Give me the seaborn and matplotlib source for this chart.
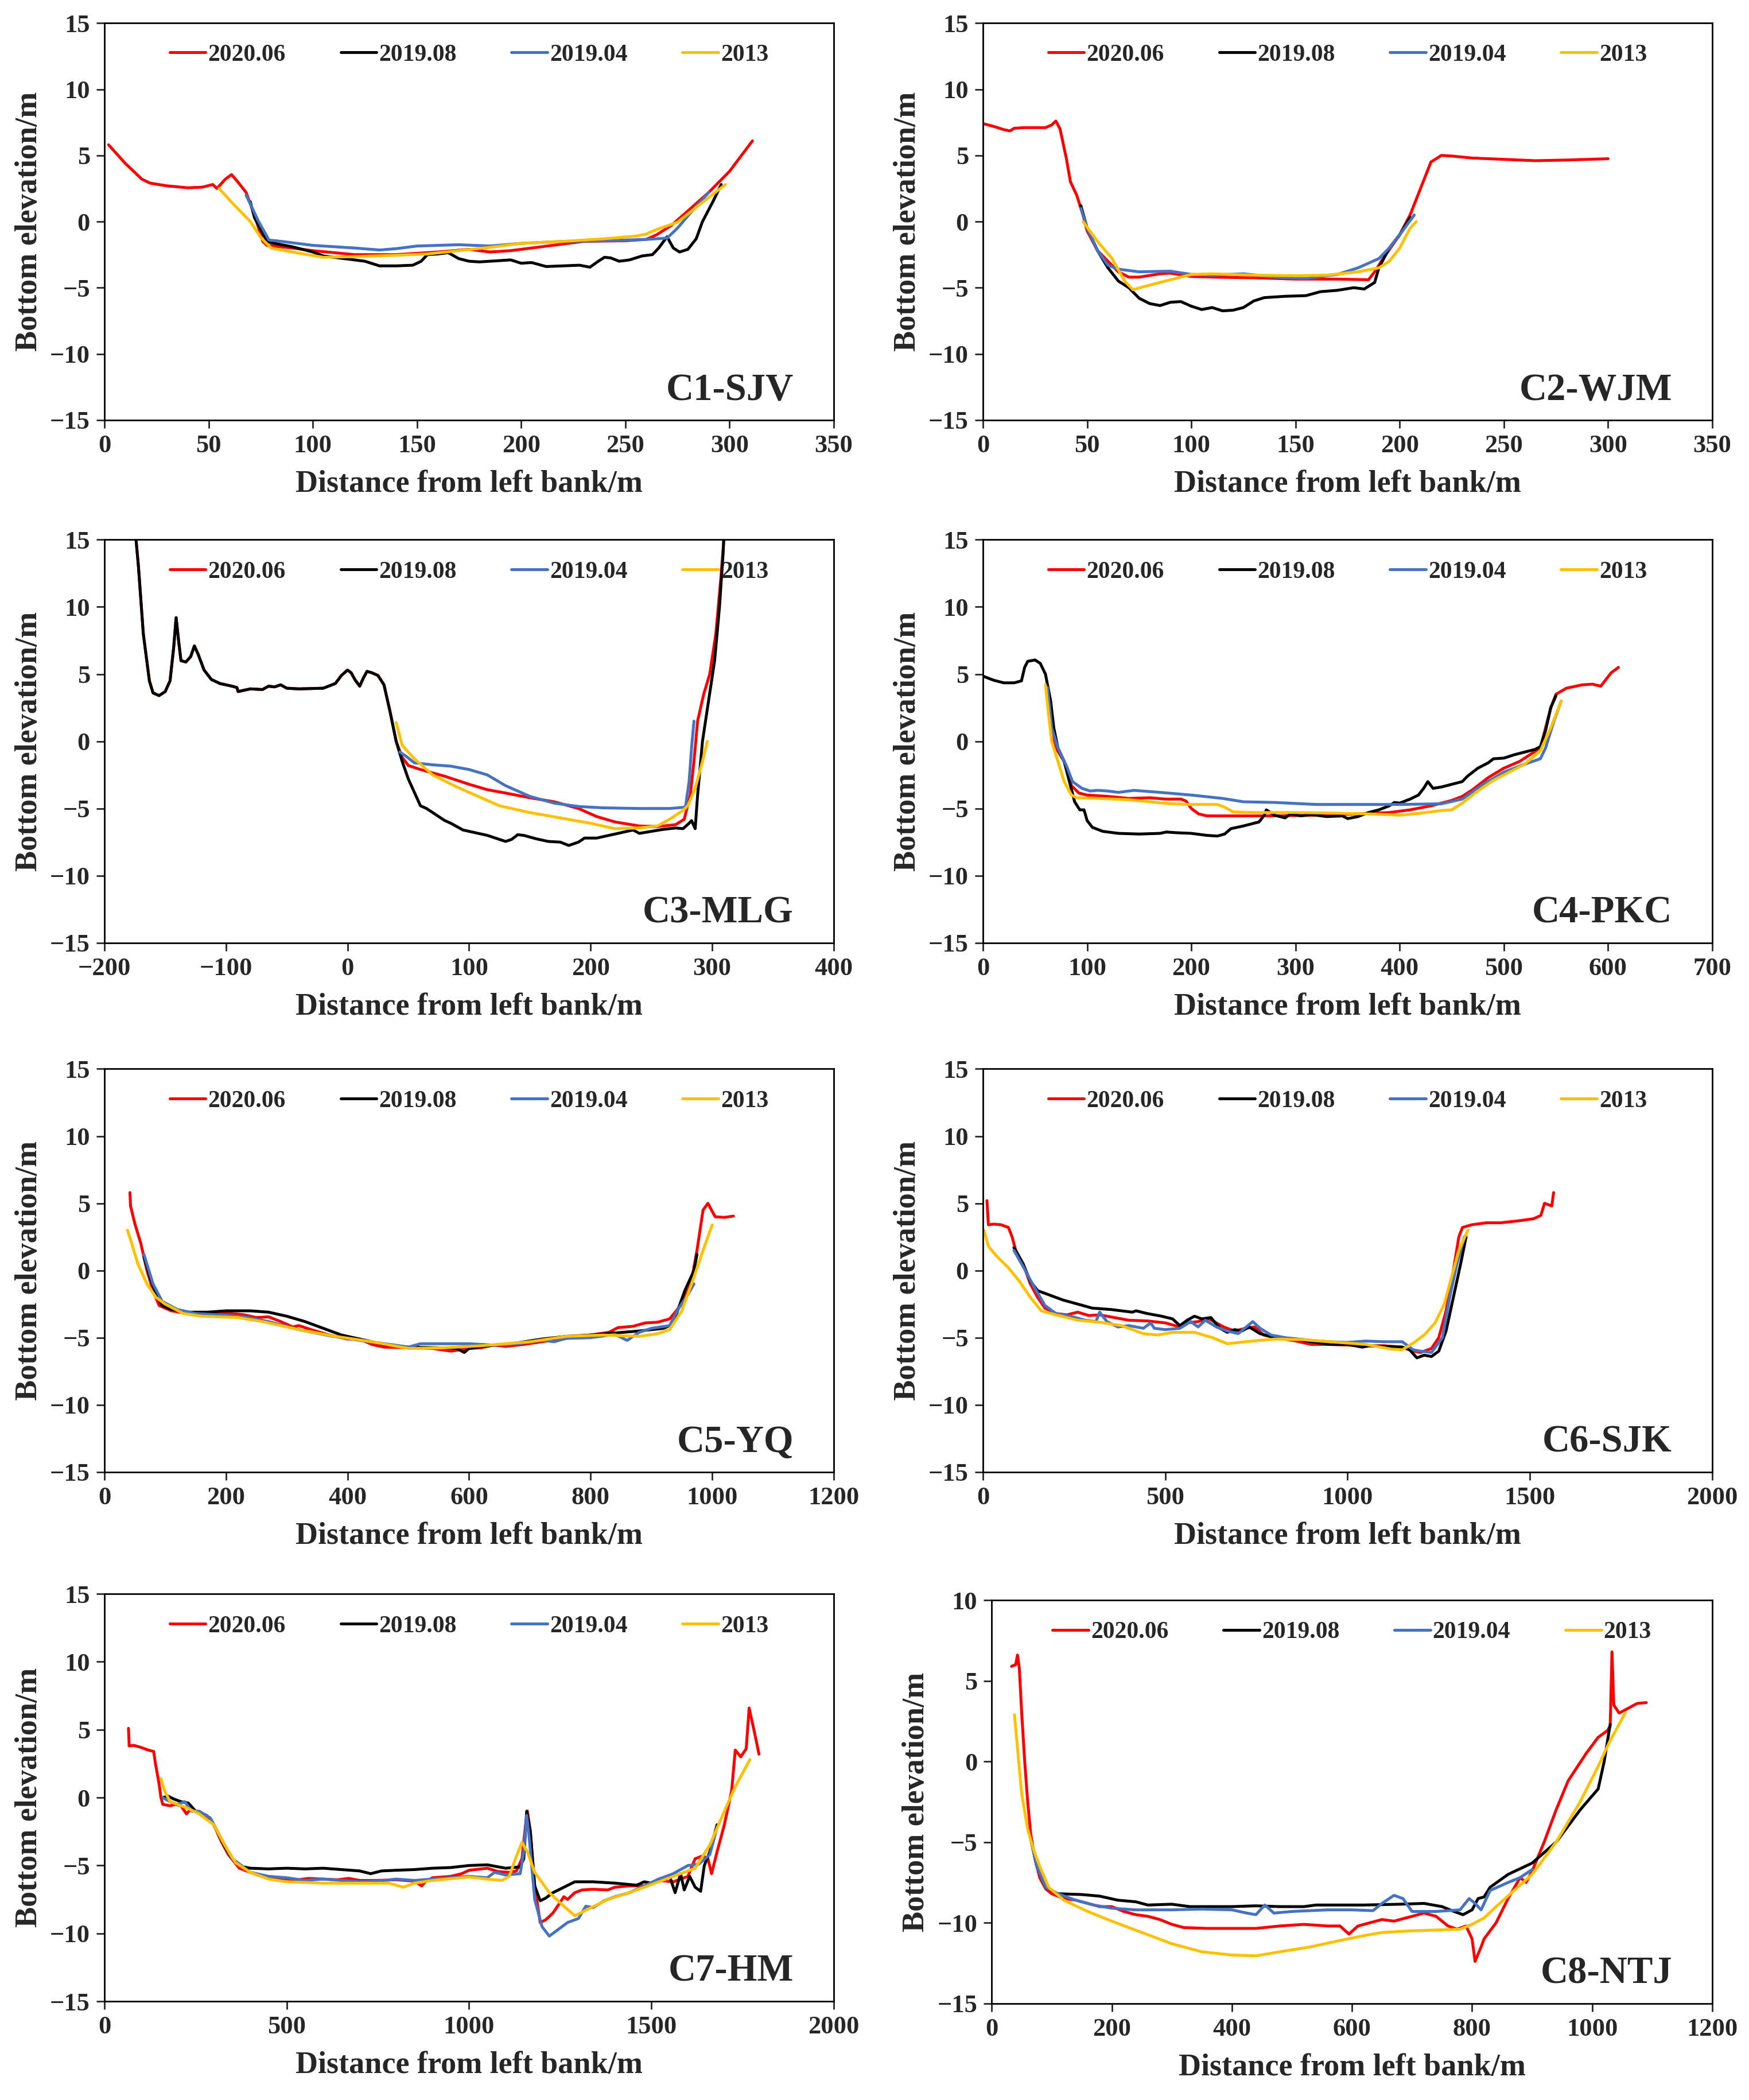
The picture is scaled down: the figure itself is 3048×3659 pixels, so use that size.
import pandas as pd
import matplotlib.pyplot as plt
import seaborn as sns

# Cross-section bottom profiles, 8 sections x 4 surveys
# =====================================================
surveys = ["2020.06", "2019.08", "2019.04", "2013"]
colors = ["#FF0000", "#000000", "#4472C4", "#FFC000"]
names = ["C1-SJV", "C2-WJM", "C3-MLG", "C4-PKC", "C5-YQ", "C6-SJK", "C7-HM", "C8-NTJ"]

# C1-SJV
c1_2020_x = [2, 6, 10, 14, 18, 22, 30, 40, 47, 52, 54, 58, 61, 64, 68, 72, 76, 78, 90, 100, 120, 140, 160, 175, 185, 195, 210, 230, 250, 260, 265, 272, 280, 290, 300, 311]
c1_2020_y = [5.8, 5.1, 4.4, 3.8, 3.2, 2.9, 2.7, 2.55, 2.6, 2.8, 2.5, 3.2, 3.55, 3.0, 2.2, 0.5, -1.5, -1.8, -2.0, -2.2, -2.5, -2.5, -2.3, -2.1, -2.3, -2.2, -1.9, -1.5, -1.45, -1.35, -1.0, -0.3, 0.8, 2.2, 3.8, 6.1]
c1_2019a_x = [70, 72, 78, 80, 90, 100, 105, 115, 125, 132, 140, 148, 152, 155, 160, 165, 170, 175, 180, 190, 195, 200, 205, 212, 220, 228, 233, 237, 240, 243, 247, 252, 258, 263, 266, 270, 273, 276, 280, 284, 287, 292, 296]
c1_2019a_y = [1.5, 0.3, -1.5, -1.6, -1.9, -2.3, -2.6, -2.8, -3.0, -3.35, -3.35, -3.3, -3.0, -2.5, -2.45, -2.35, -2.8, -3.0, -3.05, -2.95, -2.9, -3.15, -3.1, -3.4, -3.35, -3.3, -3.45, -3.0, -2.7, -2.75, -3.0, -2.9, -2.6, -2.5, -2.0, -1.15, -2.0, -2.3, -2.1, -1.3, 0.0, 1.5, 2.8]
c1_2019b_x = [68, 74, 79, 85, 100, 120, 132, 140, 150, 170, 185, 200, 220, 240, 260, 270, 275, 282, 290]
c1_2019b_y = [2.0, 0.0, -1.4, -1.5, -1.8, -2.0, -2.15, -2.05, -1.85, -1.75, -1.85, -1.65, -1.5, -1.45, -1.35, -1.25, -0.5, 0.8, 2.2]
c1_2013_x = [55, 62, 70, 75, 80, 90, 105, 120, 140, 155, 170, 185, 200, 220, 240, 255, 260, 265, 275, 285, 298]
c1_2013_y = [2.5, 1.3, 0.0, -1.2, -2.0, -2.3, -2.7, -2.65, -2.55, -2.45, -2.2, -1.95, -1.65, -1.5, -1.3, -1.1, -0.95, -0.6, -0.05, 1.2, 2.8]

# C2-WJM
c2_2020_x = [0, 5, 10, 13, 15, 20, 30, 33, 35, 37, 40, 42, 45, 48, 50, 55, 60, 65, 70, 75, 85, 90, 100, 110, 130, 150, 170, 185, 188, 192, 200, 205, 210, 215, 220, 225, 235, 250, 265, 280, 300]
c2_2020_y = [7.4, 7.2, 6.95, 6.85, 7.05, 7.1, 7.1, 7.3, 7.6, 7.0, 4.8, 3.0, 2.0, 0.5, -0.7, -2.2, -3.0, -3.8, -4.2, -4.2, -3.95, -3.9, -4.15, -4.2, -4.25, -4.35, -4.35, -4.4, -3.8, -2.8, -1.0, 0.5, 2.5, 4.5, 5.0, 4.95, 4.8, 4.7, 4.6, 4.65, 4.75]
c2_2019a_x = [47, 50, 55, 60, 65, 70, 75, 80, 85, 90, 95, 100, 105, 110, 115, 120, 125, 130, 135, 145, 155, 162, 170, 178, 183, 188, 190, 195, 200, 205]
c2_2019a_y = [1.2, -0.5, -2.2, -3.5, -4.5, -5.0, -5.8, -6.2, -6.35, -6.1, -6.05, -6.4, -6.65, -6.5, -6.75, -6.7, -6.5, -6.0, -5.75, -5.65, -5.6, -5.3, -5.2, -5.0, -5.1, -4.6, -3.5, -2.0, -1.0, 0.3]
c2_2019b_x = [47, 50, 55, 60, 65, 75, 90, 100, 110, 125, 140, 155, 170, 180, 190, 195, 200, 207]
c2_2019b_y = [1.0, -0.5, -2.2, -3.3, -3.6, -3.8, -3.75, -4.0, -4.05, -3.95, -4.2, -4.3, -4.0, -3.5, -2.8, -2.0, -1.0, 0.5]
c2_2013_x = [48, 55, 62, 68, 72, 80, 90, 100, 110, 130, 150, 165, 180, 190, 195, 200, 205, 208]
c2_2013_y = [0.0, -1.5, -2.8, -4.5, -5.15, -4.8, -4.4, -4.0, -3.95, -4.05, -4.1, -4.05, -3.8, -3.5, -3.0, -2.0, -0.5, 0.0]

# C3-MLG
c3_bank_x = [-177, -172, -168, -163, -160, -155, -150, -146, -143, -141, -139, -137, -133, -129, -126, -123, -118, -112, -105, -95, -91, -90, -85, -80, -70, -65, -60, -55, -50, -40, -20, -10, -5, 0, 3, 6, 10, 13, 16, 20, 25, 30, 35, 40]
c3_bank_y = [18, 13, 8, 4.5, 3.6, 3.4, 3.7, 4.5, 7.0, 9.2, 7.5, 6.0, 5.9, 6.3, 7.1, 6.5, 5.3, 4.6, 4.3, 4.1, 4.0, 3.7, 3.8, 3.9, 3.85, 4.1, 4.05, 4.2, 3.95, 3.9, 3.95, 4.3, 4.9, 5.3, 5.1, 4.6, 4.1, 4.7, 5.2, 5.1, 4.9, 4.2, 2.2, 0.0]
c3_2020_x = c3_bank_x + [45, 50, 60, 80, 100, 115, 130, 150, 170, 190, 205, 220, 240, 255, 270, 277, 282, 285, 288, 293, 298, 303, 307, 310, 312]
c3_2020_y = c3_bank_y + [-1.2, -1.8, -2.1, -2.6, -3.2, -3.6, -3.85, -4.2, -4.5, -5.0, -5.6, -6.0, -6.3, -6.35, -6.2, -5.8, -4.0, -1.5, 1.5, 3.5, 5.0, 8.0, 12.0, 15.5, 18]
c3_2019a_x = c3_bank_x + [45, 50, 60, 65, 70, 80, 85, 95, 105, 115, 125, 130, 135, 140, 145, 155, 165, 175, 182, 190, 195, 205, 215, 225, 235, 240, 250, 260, 270, 276, 281, 283, 286, 288, 292, 297, 302, 306, 309, 311]
c3_2019a_y = c3_bank_y + [-1.5, -2.8, -4.8, -5.0, -5.3, -5.9, -6.1, -6.6, -6.8, -7.0, -7.3, -7.45, -7.3, -6.95, -7.0, -7.25, -7.45, -7.5, -7.75, -7.5, -7.2, -7.2, -7.0, -6.8, -6.6, -6.85, -6.7, -6.55, -6.45, -6.5, -6.1, -5.9, -6.5, -4.0, 0.0, 3.0, 6.0, 10.0, 14.0, 18]
c3_2019b_x = [43, 48, 55, 70, 85, 100, 115, 130, 150, 170, 190, 210, 240, 265, 278, 281, 283, 285]
c3_2019b_y = [-0.8, -1.1, -1.6, -1.75, -1.85, -2.1, -2.5, -3.3, -4.1, -4.6, -4.85, -4.95, -5.0, -5.0, -4.9, -3.0, -0.5, 1.5]
c3_2013_x = [40, 45, 55, 70, 90, 110, 125, 150, 175, 200, 220, 240, 255, 265, 275, 280, 286, 292, 296]
c3_2013_y = [1.4, -0.3, -1.3, -2.5, -3.4, -4.2, -4.8, -5.3, -5.7, -6.1, -6.5, -6.45, -6.3, -5.8, -5.2, -4.8, -3.5, -1.5, 0.0]

# C4-PKC
c4_2020_x = [62, 66, 70, 78, 85, 92, 100, 120, 140, 160, 175, 190, 195, 200, 207, 215, 240, 280, 320, 360, 390, 410, 430, 450, 460, 470, 485, 500, 515, 525, 535, 540, 545, 550, 560, 575, 585, 593, 598, 603, 610]
c4_2020_y = [4.0, 1.0, -0.5, -1.5, -3.3, -3.85, -4.0, -4.1, -4.25, -4.2, -4.3, -4.3, -4.45, -5.0, -5.4, -5.55, -5.55, -5.55, -5.5, -5.4, -5.3, -5.1, -4.8, -4.4, -4.1, -3.6, -2.7, -2.0, -1.5, -1.0, -0.5, 1.0, 2.5, 3.5, 3.95, 4.2, 4.25, 4.1, 4.6, 5.1, 5.5]
c4_2019a_x = [0, 10, 20, 30, 37, 40, 43, 50, 55, 60, 65, 68, 72, 78, 83, 88, 93, 97, 100, 105, 115, 130, 150, 170, 176, 185, 200, 215, 225, 232, 238, 250, 260, 265, 270, 272, 280, 290, 295, 305, 315, 330, 345, 350, 360, 370, 380, 390, 395, 400, 410, 418, 423, 427, 432, 440, 450, 460, 465, 475, 485, 490, 500, 510, 520, 530, 535, 540, 545, 550]
c4_2019a_y = [4.85, 4.55, 4.35, 4.35, 4.5, 5.5, 5.95, 6.05, 5.8, 5.0, 3.0, 1.0, -0.5, -1.5, -3.0, -4.5, -5.1, -5.1, -5.9, -6.4, -6.7, -6.85, -6.9, -6.85, -6.75, -6.8, -6.85, -7.0, -7.05, -6.9, -6.5, -6.3, -6.1, -6.0, -5.5, -5.1, -5.5, -5.7, -5.4, -5.55, -5.45, -5.6, -5.55, -5.75, -5.6, -5.3, -5.1, -4.8, -4.55, -4.6, -4.3, -4.0, -3.5, -3.0, -3.5, -3.4, -3.2, -3.0, -2.6, -2.0, -1.6, -1.3, -1.25, -1.0, -0.8, -0.6, -0.4, 0.8, 2.5, 3.4]
c4_2019b_x = [62, 66, 72, 80, 86, 95, 103, 110, 120, 130, 145, 170, 200, 230, 250, 280, 320, 360, 400, 440, 460, 480, 500, 520, 535, 540, 548, 555]
c4_2019b_y = [4.0, 1.0, -0.5, -1.8, -3.0, -3.5, -3.7, -3.65, -3.7, -3.8, -3.65, -3.8, -4.0, -4.25, -4.5, -4.55, -4.7, -4.7, -4.7, -4.65, -4.3, -3.2, -2.3, -1.7, -1.3, -0.5, 1.5, 3.0]
c4_2013_x = [60, 63, 66, 72, 78, 85, 90, 110, 140, 160, 180, 200, 225, 232, 240, 260, 300, 340, 370, 400, 420, 440, 450, 460, 475, 490, 505, 520, 535, 545, 555]
c4_2013_y = [4.2, 2.0, 0.0, -1.5, -3.0, -4.0, -4.2, -4.25, -4.35, -4.5, -4.65, -4.7, -4.7, -4.9, -5.25, -5.3, -5.3, -5.35, -5.4, -5.5, -5.35, -5.15, -5.1, -4.6, -3.7, -2.9, -2.3, -1.7, -0.7, 1.0, 3.0]

# C5-YQ
c5_2020_x = [42, 43, 50, 60, 70, 80, 90, 110, 130, 160, 200, 230, 250, 270, 290, 310, 320, 340, 370, 400, 420, 440, 460, 500, 540, 570, 600, 620, 640, 660, 690, 720, 760, 800, 830, 845, 870, 890, 910, 930, 950, 965, 975, 985, 993, 1000, 1005, 1020, 1035]
c5_2020_y = [5.8, 4.8, 3.5, 2.0, 0.0, -1.5, -2.6, -3.0, -3.15, -3.2, -3.15, -3.3, -3.5, -3.45, -3.8, -4.2, -4.1, -4.4, -4.8, -5.1, -5.1, -5.5, -5.7, -5.75, -5.8, -6.0, -5.8, -5.75, -5.55, -5.65, -5.5, -5.3, -5.05, -4.8, -4.6, -4.25, -4.15, -3.9, -3.85, -3.6, -2.5, -1.0, 1.5, 4.5, 5.0, 4.4, 4.0, 3.95, 4.05]
c5_2019a_x = [65, 75, 85, 95, 110, 140, 170, 200, 240, 270, 300, 330, 360, 390, 420, 460, 500, 550, 580, 592, 600, 630, 670, 720, 760, 800, 840, 880, 920, 935, 955, 970, 975]
c5_2019a_y = [1.0, -0.5, -1.8, -2.6, -2.9, -3.1, -3.1, -3.0, -3.0, -3.1, -3.4, -3.8, -4.3, -4.8, -5.1, -5.5, -5.7, -5.75, -5.8, -6.1, -5.8, -5.6, -5.45, -5.1, -4.9, -4.8, -4.65, -4.5, -4.3, -4.0, -1.5, 0.0, 1.2]
c5_2019b_x = [65, 80, 95, 120, 150, 190, 230, 270, 320, 370, 420, 470, 500, 520, 560, 600, 640, 680, 720, 740, 760, 800, 840, 860, 880, 900, 930, 945, 960, 970]
c5_2019b_y = [1.2, -1.0, -2.3, -2.9, -3.2, -3.3, -3.45, -3.8, -4.4, -4.85, -5.2, -5.5, -5.7, -5.45, -5.45, -5.45, -5.55, -5.45, -5.2, -5.3, -5.05, -5.0, -4.75, -5.2, -4.6, -4.3, -4.1, -2.8, -1.8, -1.0]
c5_2013_x = [38, 45, 55, 70, 85, 100, 130, 160, 220, 260, 320, 380, 440, 500, 560, 620, 700, 760, 820, 880, 910, 930, 950, 970, 985, 1000]
c5_2013_y = [3.0, 2.0, 0.5, -1.0, -2.0, -2.5, -3.2, -3.4, -3.5, -3.8, -4.4, -4.9, -5.3, -5.8, -5.75, -5.6, -5.3, -4.9, -4.8, -4.9, -4.7, -4.4, -3.0, -0.5, 1.5, 3.4]

# C6-SJK
c6_2020_x = [11, 15, 30, 50, 70, 80, 90, 110, 130, 150, 170, 200, 230, 260, 290, 320, 360, 400, 450, 500, 540, 560, 590, 620, 660, 690, 720, 745, 770, 800, 850, 900, 950, 1000, 1050, 1100, 1150, 1180, 1200, 1230, 1250, 1270, 1290, 1305, 1315, 1340, 1380, 1420, 1470, 1510, 1530, 1540, 1550, 1560, 1565]
c6_2020_y = [5.2, 3.4, 3.45, 3.4, 3.2, 2.5, 1.5, 0.5, -1.0, -2.0, -2.8, -3.2, -3.3, -3.1, -3.35, -3.3, -3.5, -3.7, -3.75, -3.9, -4.2, -3.9, -3.8, -3.6, -4.2, -4.5, -4.3, -4.2, -4.8, -5.0, -5.2, -5.5, -5.5, -5.55, -5.6, -5.6, -5.7, -6.0, -6.1, -5.8, -5.0, -3.0, 0.0, 2.5, 3.2, 3.4, 3.55, 3.55, 3.7, 3.85, 4.1, 5.0, 4.9, 4.8, 5.8]
c6_2019a_x = [85, 110, 130, 150, 180, 220, 260, 300, 350, 380, 410, 420, 450, 490, 520, 540, 560, 580, 600, 625, 650, 670, 690, 710, 730, 760, 800, 850, 900, 950, 1000, 1040, 1060, 1100, 1150, 1170, 1190, 1210, 1230, 1250, 1270, 1290, 1310, 1325]
c6_2019a_y = [1.7, 0.5, -0.8, -1.5, -1.8, -2.2, -2.5, -2.8, -2.9, -3.0, -3.1, -3.0, -3.2, -3.4, -3.6, -4.1, -3.7, -3.4, -3.6, -3.5, -4.3, -4.6, -4.4, -4.5, -4.2, -4.7, -5.0, -5.1, -5.3, -5.5, -5.5, -5.7, -5.6, -5.65, -5.7, -5.9, -6.5, -6.3, -6.4, -6.0, -4.5, -2.0, 0.5, 2.5]
c6_2019b_x = [85, 110, 140, 170, 200, 240, 280, 310, 320, 340, 370, 400, 440, 460, 470, 500, 540, 570, 590, 610, 640, 670, 700, 740, 760, 790, 830, 900, 950, 1000, 1050, 1100, 1150, 1180, 1200, 1230, 1260, 1280, 1300, 1320]
c6_2019b_y = [1.5, 0.3, -1.2, -2.6, -3.2, -3.4, -3.7, -3.8, -3.1, -3.8, -4.2, -4.1, -4.3, -3.9, -4.3, -4.4, -4.3, -3.8, -4.2, -3.7, -4.2, -4.5, -4.7, -3.8, -4.3, -4.8, -5.0, -5.2, -5.3, -5.35, -5.25, -5.3, -5.3, -5.9, -6.0, -6.1, -5.0, -2.0, 0.5, 2.5]
c6_2013_x = [3, 15, 40, 70, 100, 130, 160, 200, 260, 320, 380, 440, 480, 520, 580, 630, 670, 720, 800, 880, 950, 1050, 1120, 1150, 1180, 1210, 1240, 1265, 1285, 1305, 1330]
c6_2013_y = [3.0, 1.8, 1.0, 0.2, -0.8, -2.0, -3.0, -3.3, -3.7, -3.85, -4.1, -4.7, -4.8, -4.6, -4.6, -5.0, -5.45, -5.3, -5.1, -5.15, -5.3, -5.5, -5.85, -5.9, -5.4, -4.8, -3.9, -2.5, -0.5, 1.5, 3.0]

# C7-HM
c7_2020_x = [66, 68, 80, 100, 120, 135, 140, 150, 155, 160, 180, 195, 210, 220, 225, 235, 260, 280, 300, 320, 340, 370, 420, 460, 500, 530, 560, 600, 640, 670, 700, 750, 800, 850, 870, 880, 900, 950, 980, 1000, 1050, 1080, 1110, 1130, 1145, 1155, 1160, 1168, 1180, 1195, 1210, 1230, 1260, 1270, 1290, 1310, 1340, 1380, 1400, 1440, 1480, 1520, 1560, 1580, 1600, 1620, 1640, 1655, 1665, 1680, 1700, 1720, 1730, 1745, 1760, 1768, 1785, 1795]
c7_2020_y = [5.1, 3.8, 3.85, 3.7, 3.5, 3.4, 2.5, 1.0, 0.0, -0.5, -0.6, -0.5, -0.6, -1.0, -1.2, -0.9, -1.1, -1.3, -2.0, -3.2, -4.2, -5.2, -5.7, -5.9, -6.0, -6.05, -5.95, -6.0, -6.05, -5.95, -6.1, -6.1, -6.05, -6.15, -6.5, -6.2, -5.9, -5.8, -5.6, -5.35, -5.2, -5.45, -5.5, -5.4, -4.5, -2.0, -1.0, -2.5, -6.5, -9.2, -9.0, -8.5, -7.3, -7.5, -7.0, -6.8, -6.75, -6.8, -6.6, -6.5, -6.5, -6.1, -6.2, -6.0, -5.8, -4.5, -4.3, -4.5, -5.6, -4.0, -2.0, 0.5, 3.5, 3.0, 3.6, 6.6, 4.5, 3.2]
c7_2019a_x = [160, 175, 190, 210, 230, 250, 270, 290, 310, 330, 350, 380, 400, 450, 500, 550, 600, 650, 700, 730, 760, 800, 850, 900, 950, 1000, 1050, 1100, 1140, 1150, 1158, 1168, 1180, 1195, 1210, 1230, 1260, 1290, 1340, 1400, 1460, 1480, 1500, 1530, 1550, 1565, 1580, 1590, 1605, 1620, 1635, 1645, 1660, 1680]
c7_2019a_y = [0.0, 0.1, -0.1, -0.3, -0.4, -1.0, -1.2, -1.5, -2.5, -3.6, -4.5, -5.1, -5.2, -5.25, -5.2, -5.25, -5.2, -5.3, -5.4, -5.6, -5.4, -5.35, -5.3, -5.2, -5.15, -5.0, -4.95, -5.2, -5.1, -4.5, -1.0, -2.5, -6.5, -7.6, -7.4, -7.0, -6.6, -6.2, -6.2, -6.3, -6.45, -6.2, -6.3, -6.0, -5.8, -7.0, -5.6, -6.8, -5.8, -6.6, -6.9, -5.0, -4.0, -2.0]
c7_2019b_x = [160, 180, 200, 220, 240, 260, 290, 320, 350, 400, 450, 500, 550, 600, 650, 700, 750, 800, 850, 900, 950, 1000, 1050, 1070, 1100, 1140, 1150, 1158, 1165, 1180, 1200, 1220, 1240, 1270, 1300, 1320, 1340, 1370, 1400, 1440, 1480, 1520, 1560, 1600, 1630, 1660, 1680]
c7_2019b_y = [0.0, -0.3, -0.5, -0.3, -1.0, -1.0, -1.5, -3.0, -4.5, -5.5, -5.8, -5.9, -6.1, -6.0, -6.1, -6.2, -6.15, -6.0, -6.1, -6.0, -5.9, -5.8, -5.9, -5.5, -5.7, -5.6, -4.0, -1.3, -3.0, -7.5, -9.5, -10.2, -9.8, -9.2, -8.9, -8.0, -8.1, -7.6, -7.3, -7.0, -6.5, -6.0, -5.6, -5.0, -4.9, -4.2, -2.2]
c7_2013_x = [155, 165, 180, 200, 230, 260, 300, 330, 360, 400, 450, 500, 600, 700, 780, 820, 850, 900, 1000, 1050, 1090, 1110, 1130, 1145, 1160, 1180, 1220, 1260, 1290, 1320, 1380, 1440, 1500, 1560, 1620, 1660, 1700, 1730, 1770]
c7_2013_y = [1.4, 0.5, -0.3, -0.5, -0.8, -1.2, -2.0, -3.5, -4.8, -5.5, -6.0, -6.2, -6.3, -6.3, -6.3, -6.6, -6.3, -6.1, -5.85, -6.0, -6.1, -5.8, -4.3, -3.3, -4.0, -5.5, -7.0, -8.0, -8.7, -8.3, -7.5, -7.0, -6.4, -5.8, -5.2, -3.5, -1.0, 0.8, 2.8]

# C8-NTJ
c8_2020_x = [33, 40, 43, 46, 50, 55, 60, 65, 72, 80, 90, 100, 120, 140, 160, 180, 200, 220, 240, 260, 280, 300, 320, 360, 400, 440, 480, 520, 560, 580, 595, 610, 630, 650, 670, 690, 720, 740, 760, 775, 790, 800, 805, 815, 820, 840, 860, 880, 890, 900, 920, 940, 960, 990, 1010, 1025, 1030, 1033, 1036, 1045, 1060, 1075, 1090]
c8_2020_y = [5.9, 6.0, 6.6, 5.8, 3.0, 0.0, -2.5, -4.5, -6.0, -7.2, -7.9, -8.2, -8.5, -8.6, -8.8, -9.0, -9.0, -9.3, -9.5, -9.6, -9.8, -10.1, -10.3, -10.35, -10.35, -10.35, -10.2, -10.1, -10.2, -10.2, -10.7, -10.2, -10.0, -9.8, -9.9, -9.7, -9.4, -9.6, -10.2, -10.4, -10.2, -11.0, -12.4, -11.5, -11.0, -10.0, -8.5, -7.2, -7.5, -6.8, -5.0, -3.0, -1.2, 0.5, 1.5, 1.9, 2.2, 6.8, 3.5, 3.0, 3.3, 3.6, 3.65]
c8_2019a_x = [65, 75, 90, 110, 150, 180, 210, 240, 260, 300, 330, 360, 400, 440, 480, 520, 540, 580, 620, 680, 720, 750, 770, 785, 800, 810, 820, 830, 860, 900, 940, 980, 1010, 1020, 1030]
c8_2019a_y = [-4.8, -6.5, -7.8, -8.2, -8.25, -8.35, -8.6, -8.7, -8.9, -8.85, -9.0, -9.0, -9.0, -8.95, -9.0, -9.0, -8.9, -8.9, -8.9, -8.85, -8.8, -9.0, -9.3, -9.5, -9.2, -8.5, -8.4, -7.8, -7.0, -6.3, -5.0, -3.0, -1.7, 0.0, 2.3]
c8_2019b_x = [65, 75, 90, 110, 140, 170, 200, 240, 300, 350, 400, 425, 440, 455, 470, 500, 560, 600, 635, 650, 670, 685, 700, 740, 780, 795, 805, 815, 830, 860, 880, 900]
c8_2019b_y = [-4.8, -6.5, -7.8, -8.2, -8.6, -8.9, -9.1, -9.2, -9.2, -9.15, -9.2, -9.4, -9.5, -8.9, -9.4, -9.3, -9.2, -9.2, -9.25, -8.8, -8.3, -8.5, -9.3, -9.3, -9.2, -8.5, -8.8, -9.2, -8.0, -7.5, -7.2, -6.7]
c8_2013_x = [38, 45, 50, 60, 70, 80, 95, 120, 160, 200, 250, 300, 350, 400, 440, 480, 530, 580, 620, 650, 700, 780, 800, 820, 840, 870, 900, 940, 980, 1010, 1030, 1055]
c8_2013_y = [2.9, 0.0, -2.0, -4.2, -5.5, -6.5, -7.8, -8.6, -9.3, -9.9, -10.6, -11.3, -11.8, -12.0, -12.05, -11.8, -11.5, -11.1, -10.8, -10.6, -10.5, -10.4, -10.1, -9.7, -9.0, -8.0, -7.0, -5.0, -2.5, -0.3, 1.3, 3.0]

profiles = [
    [(c1_2020_x, c1_2020_y), (c1_2019a_x, c1_2019a_y), (c1_2019b_x, c1_2019b_y), (c1_2013_x, c1_2013_y)],
    [(c2_2020_x, c2_2020_y), (c2_2019a_x, c2_2019a_y), (c2_2019b_x, c2_2019b_y), (c2_2013_x, c2_2013_y)],
    [(c3_2020_x, c3_2020_y), (c3_2019a_x, c3_2019a_y), (c3_2019b_x, c3_2019b_y), (c3_2013_x, c3_2013_y)],
    [(c4_2020_x, c4_2020_y), (c4_2019a_x, c4_2019a_y), (c4_2019b_x, c4_2019b_y), (c4_2013_x, c4_2013_y)],
    [(c5_2020_x, c5_2020_y), (c5_2019a_x, c5_2019a_y), (c5_2019b_x, c5_2019b_y), (c5_2013_x, c5_2013_y)],
    [(c6_2020_x, c6_2020_y), (c6_2019a_x, c6_2019a_y), (c6_2019b_x, c6_2019b_y), (c6_2013_x, c6_2013_y)],
    [(c7_2020_x, c7_2020_y), (c7_2019a_x, c7_2019a_y), (c7_2019b_x, c7_2019b_y), (c7_2013_x, c7_2013_y)],
    [(c8_2020_x, c8_2020_y), (c8_2019a_x, c8_2019a_y), (c8_2019b_x, c8_2019b_y), (c8_2013_x, c8_2013_y)],
]

# axis ranges (min, max, step)
x_ranges = [(0, 350, 50), (0, 350, 50), (-200, 400, 100), (0, 700, 100),
            (0, 1200, 200), (0, 2000, 500), (0, 2000, 500), (0, 1200, 200)]
y_ranges = [(-15, 15, 5)] * 7 + [(-15, 10, 5)]

# 2. Style
# ========
sns.set_style("white")
plt.rcParams["font.family"] = ["Liberation Serif", "DejaVu Serif"]
plt.rcParams["font.weight"] = "bold"
plt.rcParams["axes.labelweight"] = "bold"
plt.rcParams["axes.unicode_minus"] = True

fig = plt.figure(figsize=(15.24, 18.295), dpi=200)

col_left = [0.0597, 0.562]
row_bottom = [0.800, 0.551, 0.299, 0.047]
row_height = [0.189, 0.192, 0.192, 0.194]
ax_w = 0.417

# 3. Plot each section
# ====================
for i in range(8):
    r, c = divmod(i, 2)
    bottom = row_bottom[r]
    height = row_height[r]
    if i == 7:
        bottom, height = 0.046, 0.192
    ax = fig.add_axes([col_left[c] + (0.005 if i == 7 else 0), bottom, ax_w - (0.005 if i == 7 else 0), height])

    frames = []
    for s, (xs, ys) in zip(surveys, profiles[i]):
        frames.append(pd.DataFrame({"dist": xs, "elev": ys, "survey": s}))
    df = pd.concat(frames, ignore_index=True)

    sns.lineplot(data=df, x="dist", y="elev", hue="survey", hue_order=surveys,
                 palette=colors, sort=False, estimator=None, linewidth=1.8, ax=ax)

    x0, x1, xs_ = x_ranges[i]
    y0, y1, ys_ = y_ranges[i]
    ax.set_xlim(x0, x1)
    ax.set_ylim(y0, y1)
    ax.set_xticks(range(x0, x1 + 1, xs_))
    ax.set_yticks(range(y0, y1 + 1, ys_))
    ax.tick_params(axis="both", which="major", direction="out", length=5, width=1,
                   labelsize=16, pad=4, bottom=True, left=True)
    for lab in ax.get_xticklabels() + ax.get_yticklabels():
        lab.set_fontweight("bold")
    for sp in ax.spines.values():
        sp.set_linewidth(1.0)
        sp.set_color("black")

    ax.set_xlabel("Distance from left bank/m", fontsize=19.5, fontweight="bold", labelpad=8)
    ax.set_ylabel("Bottom elevation/m", fontsize=19.5, fontweight="bold", labelpad=4)

    handles, labels = ax.get_legend_handles_labels()
    ax.legend(handles, labels, loc="center", bbox_to_anchor=(0.5, 0.92), ncol=4,
              frameon=False, handlelength=1.5, handletextpad=0.1,
              columnspacing=2.3, prop={"weight": "bold", "size": 15})

    ax.text(0.945, 0.05, names[i], transform=ax.transAxes, ha="right", va="baseline",
            fontsize=24, fontweight="bold")

fig.savefig("out.png", dpi=200)
